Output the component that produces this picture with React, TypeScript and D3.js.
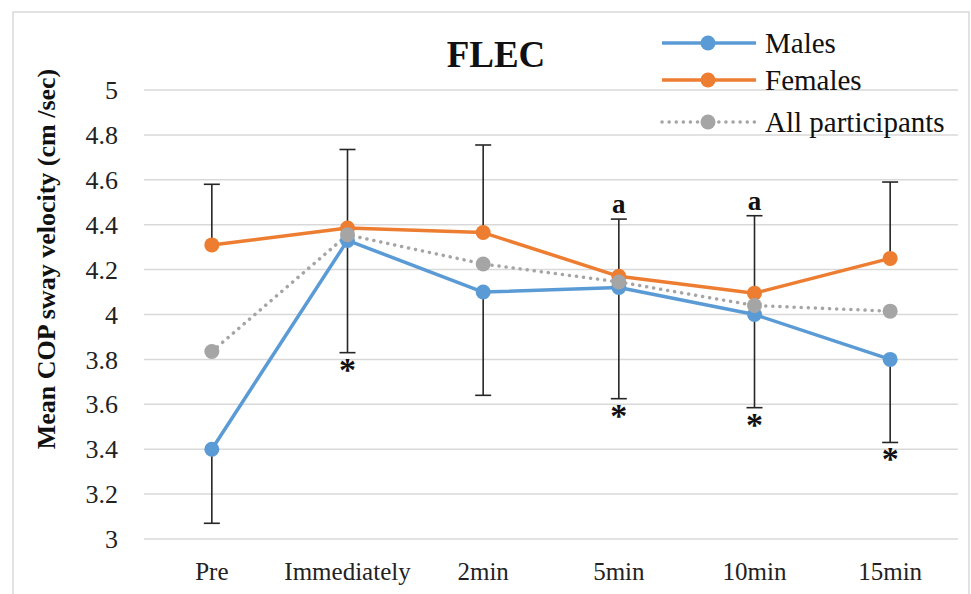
import React from 'react';
import * as d3 from 'd3';

const categories = ['Pre', 'Immediately', '2min', '5min', '10min', '15min'];
const males = [3.4, 4.33, 4.1, 4.12, 4.0, 3.8];
const females = [4.31, 4.385, 4.365, 4.17, 4.095, 4.25];
const allParticipants = [3.835, 4.355, 4.225, 4.145, 4.04, 4.015];
// error bars: males drawn downward, females upward
const malesErr = [0.33, 0.5, 0.46, 0.495, 0.415, 0.37];
const femalesErr = [0.27, 0.35, 0.39, 0.255, 0.345, 0.34];
const yTicks = [3, 3.2, 3.4, 3.6, 3.8, 4, 4.2, 4.4, 4.6, 4.8, 5];
const starAt = ['Immediately', '5min', '10min', '15min'];
const letterAt = ['5min', '10min'];

const BLUE = '#5B9BD5';
const ORANGE = '#ED7D31';
const GRAY = '#A5A5A5';
const FONT = '"Liberation Serif", "Times New Roman", serif';

export default function App() {
  const x = d3.scaleBand().domain(categories).range([144, 958]);
  const cx = (c: string) => (x(c) as number) + x.bandwidth() / 2;
  const y = d3.scaleLinear().domain([3, 5]).range([539, 90]);

  const line = d3
    .line<number>()
    .x((_, i) => cx(categories[i]))
    .y((d) => y(d));

  const series = [
    { name: 'Males', values: males, color: BLUE, dash: undefined },
    { name: 'Females', values: females, color: ORANGE, dash: undefined },
    { name: 'All participants', values: allParticipants, color: GRAY, dash: '0.1 7' },
  ];

  const capW = 8;

  return (
    <svg
      width={971}
      height={594}
      style={{ position: 'absolute', left: 0, top: 0, background: '#fff' }}
      fontFamily={FONT}
    >
      <rect x={13} y={12} width={956} height={600} fill="#fff" stroke="#D9D9D9" strokeWidth={1.5} />

      {/* grid */}
      {yTicks.map((t) => (
        <g key={t}>
          <line x1={144} x2={958} y1={y(t)} y2={y(t)} stroke="#D9D9D9" strokeWidth={1.5} />
          <text x={118} y={y(t)} dy="0.35em" textAnchor="end" fontSize={26} fill="#222">
            {d3.format('~g')(t)}
          </text>
        </g>
      ))}

      {categories.map((c) => (
        <text key={c} x={cx(c)} y={580} textAnchor="middle" fontSize={25} fill="#222">
          {c}
        </text>
      ))}

      <text
        transform="translate(55,259) rotate(-90)"
        textAnchor="middle"
        fontSize={26}
        fontWeight="bold"
        fill="#111"
      >
        Mean COP sway velocity (cm /sec)
      </text>

      <text x={496} y={67} textAnchor="middle" fontSize={37} fontWeight="bold" fill="#111">
        FLEC
      </text>

      {/* error bars */}
      {categories.map((c, i) => {
        const px = cx(c);
        const lo = y(males[i] - malesErr[i]);
        const hi = y(females[i] + femalesErr[i]);
        return (
          <g key={'e' + c} stroke="#262626" strokeWidth={1.6}>
            <line x1={px} x2={px} y1={y(males[i])} y2={lo} />
            <line x1={px - capW} x2={px + capW} y1={lo} y2={lo} />
            <line x1={px} x2={px} y1={y(females[i])} y2={hi} />
            <line x1={px - capW} x2={px + capW} y1={hi} y2={hi} />
          </g>
        );
      })}

      {/* lines */}
      {series.map((s) => (
        <path
          key={s.name}
          d={line(s.values) || ''}
          fill="none"
          stroke={s.color}
          strokeWidth={3.5}
          strokeDasharray={s.dash}
          strokeLinecap={s.dash ? 'round' : 'butt'}
          strokeLinejoin="round"
        />
      ))}
      {series.map((s) =>
        s.values.map((v, i) => (
          <circle key={s.name + i} cx={cx(categories[i])} cy={y(v)} r={7.5} fill={s.color} />
        ))
      )}

      {/* significance marks */}
      {starAt.map((c) => {
        const i = categories.indexOf(c);
        return (
          <text key={'s' + c} x={cx(c)} y={y(males[i] - malesErr[i]) + 28} textAnchor="middle" fontSize={34} fontWeight="bold" fill="#111">
            *
          </text>
        );
      })}
      {letterAt.map((c) => {
        const i = categories.indexOf(c);
        return (
          <text key={'a' + c} x={cx(c)} y={y(females[i] + femalesErr[i]) - 6} textAnchor="middle" fontSize={27} fontWeight="bold" fill="#111">
            a
          </text>
        );
      })}

      {/* legend */}
      {series.map((s, i) => {
        const ly = [43, 80, 122][i];
        return (
          <g key={'l' + s.name}>
            <line
              x1={662}
              x2={756}
              y1={ly}
              y2={ly}
              stroke={s.color}
              strokeWidth={3.5}
              strokeDasharray={s.dash}
              strokeLinecap={s.dash ? 'round' : 'butt'}
            />
            <circle cx={708} cy={ly} r={7.5} fill={s.color} />
            <text x={765} y={ly} dy="0.35em" fontSize={29} fill="#111">
              {s.name}
            </text>
          </g>
        );
      })}
    </svg>
  );
}
